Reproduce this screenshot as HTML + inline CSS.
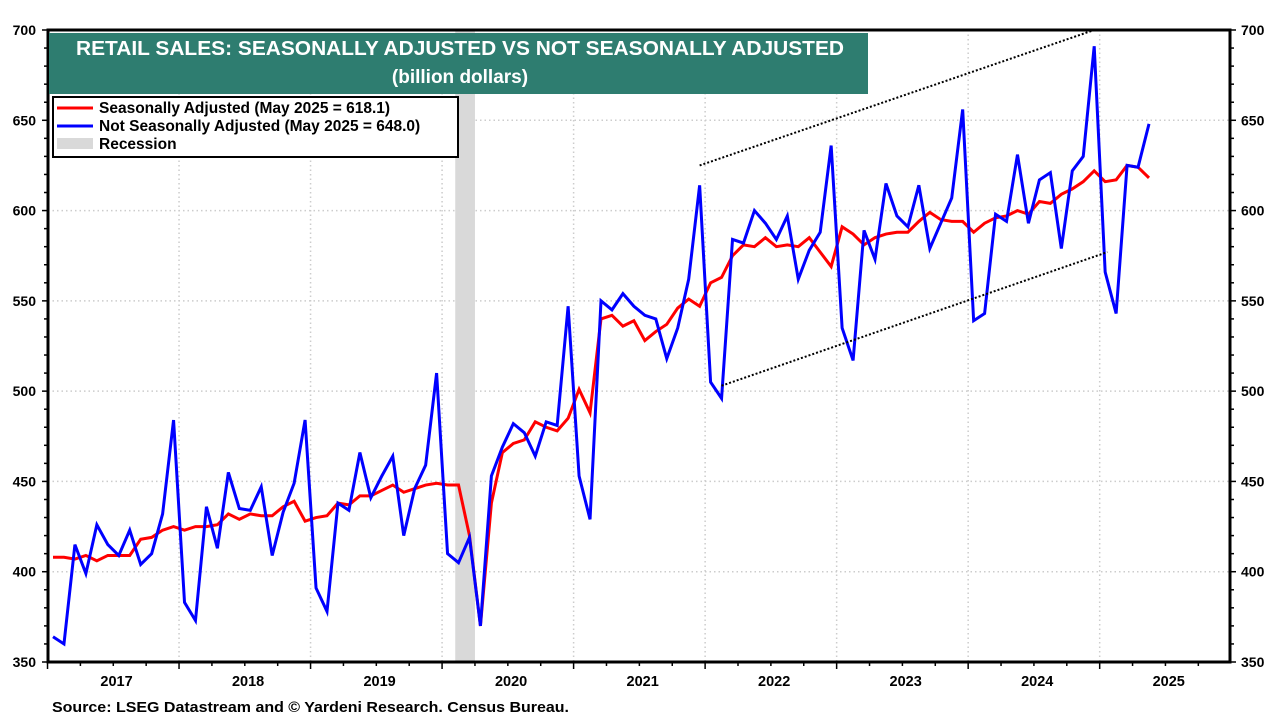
<!DOCTYPE html>
<html><head><meta charset="utf-8"><style>
body{margin:0;background:#fff;}
svg{display:block;font-family:"Liberation Sans",Arial,sans-serif;}
</style></head><body>
<svg id="chart" width="1280" height="720" viewBox="0 0 1280 720">
<g id="grid"></g>
<g id="rec"></g>
<g id="series"></g>
<g id="axes"></g>
<g>
<rect x="49" y="33" width="819" height="61" fill="#2e7d70"/>
<text x="460" y="55" text-anchor="middle" fill="#fff" font-size="20" font-weight="bold" textLength="768" lengthAdjust="spacingAndGlyphs">RETAIL SALES: SEASONALLY ADJUSTED VS NOT SEASONALLY ADJUSTED</text>
<text x="460" y="83" text-anchor="middle" fill="#fff" font-size="19" font-weight="bold">(billion dollars)</text>
</g>
<g>
<rect x="53" y="97" width="405" height="60" fill="#fff" stroke="#000" stroke-width="2"/>
<g><line x1="57" y1="108" x2="93" y2="108" stroke="#f00" stroke-width="3"/><text x="99" y="113" font-size="15.5" font-weight="bold">Seasonally Adjusted (May 2025 = 618.1)</text></g>
<g><line x1="57" y1="126" x2="93" y2="126" stroke="#00f" stroke-width="3"/><text x="99" y="131" font-size="15.5" font-weight="bold">Not Seasonally Adjusted (May 2025 = 648.0)</text></g>
<g><rect x="57" y="138" width="36" height="11" fill="#d9d9d9"/><text x="99" y="149" font-size="15.5" font-weight="bold">Recession</text></g>
</g>
<text x="52" y="712" font-size="15" font-weight="bold" textLength="517" lengthAdjust="spacingAndGlyphs">Source: LSEG Datastream and © Yardeni Research. Census Bureau.</text>
</svg>
<script>
const years = ["2017","2018","2019","2020","2021","2022","2023","2024","2025"];
const yTicks = [350,400,450,500,550,600,650,700];
const nsa = [364,360,415,399,426,415,409,423,404,410,432,484,
383,373,436,413,455,435,434,447,409,433,449,484,
391,378,438,434,466,441,453,464,420,446,459,510,
410,405,419,370,453,469,482,477,464,483,481,547,
453,429,550,545,554,547,542,540,518,535,562,614,
505,496,584,582,600,593,584,597,562,578,588,636,
535,517,589,573,615,597,591,614,579,593,607,656,
539,543,598,594,631,593,617,621,579,622,630,691,
566,543,625,624,648];
const sa = [408,408,407,409,406,409,409,409,418,419,423,425,
423,425,425,426,432,429,432,431,431,436,439,428,
430,431,438,437,442,442,445,448,444,446,448,449,
448,448,420,370,438,466,471,473,483,480,478,485,
501,488,540,542,536,539,528,533,537,546,551,547,
560,563,575,581,580,585,580,581,580,585,577,569,
591,587,581,585,587,588,588,594,599,595,594,594,
588,593,596,597,600,598,605,604,609,612,616,622,
616,617,625,624,618.1];
const recession = [37,39];
const trendUpper = [[59,625],[95,700]];
const trendLower = [[61,503],[96.2,577]];

const NS="http://www.w3.org/2000/svg";
const L=48,R=1230,T=30,B=662;
const x0=53, dm=10.96;
const xs=i=>x0+i*dm;
const ys=v=>B-(v-350)*(B-T)/350;
function mk(tag,attrs,parent){const e=document.createElementNS(NS,tag);for(const k in attrs)e.setAttribute(k,attrs[k]);parent.appendChild(e);return e;}
const grid=document.getElementById('grid'),axes=document.getElementById('axes'),series=document.getElementById('series'),rec=document.getElementById('rec');

yTicks.forEach(v=>{
  if(v>350&&v<700){const g=mk('line',{x1:L,x2:R,y1:ys(v),y2:ys(v),stroke:'#ccc','stroke-width':1.5,'stroke-dasharray':'1.5 3'},grid);
  
  }
  const t1=mk('text',{x:36,y:ys(v)+5,'text-anchor':'end','font-size':14,'font-weight':'bold'},axes);t1.textContent=v;
  
  
  const t2=mk('text',{x:1241,y:ys(v)+5,'font-size':14,'font-weight':'bold'},axes);t2.textContent=v;
  
  
});
for(let v=350;v<=700;v+=10){
  const big=v%50===0;
  mk('line',{x1:L-(big?6:4),x2:L,y1:ys(v),y2:ys(v),stroke:'#000','stroke-width':1.5},axes);
  mk('line',{x1:R,x2:R+(big?6:4),y1:ys(v),y2:ys(v),stroke:'#000','stroke-width':1.5},axes);
}
years.forEach((y,k)=>{
  const xb=xs(12*k-0.5);
  if(k>0){const g=mk('line',{x1:xb,x2:xb,y1:T,y2:B,stroke:'#ccc','stroke-width':1.5,'stroke-dasharray':'1.5 3'},grid);
  
  }
  for(let q=0;q<4;q++){const xq=xs(12*k-0.5+3*q);if(xq<R)mk('line',{x1:xq,x2:xq,y1:B,y2:B+(q===0?7:4),stroke:'#000','stroke-width':1.5},axes);}
  const t=mk('text',{x:xs(12*k+5.8),y:686,'text-anchor':'middle','font-size':14.5,'font-weight':'bold'},axes);t.textContent=y;
  
  
});
const rr=mk('rect',{x:xs(recession[0]-0.3),y:T,width:xs(recession[1]-0.5)-xs(recession[0]-0.3),height:B-T,fill:'#d9d9d9'},rec);



function line(d,color,name){
  const p=mk('polyline',{points:d.map((v,i)=>xs(i)+','+ys(v)).join(' '),fill:'none',stroke:color,'stroke-width':3,'stroke-linejoin':'miter'},series);
  
  
}
line(sa,'#f00','sa-line');
line(nsa,'#00f','nsa-line');
[trendUpper,trendLower].forEach((tr,j)=>{
  const l=mk('line',{x1:xs(tr[0][0]),y1:ys(tr[0][1]),x2:xs(tr[1][0]),y2:ys(tr[1][1]),stroke:'#000','stroke-width':2,'stroke-dasharray':'2 2'},series);
  
  
});
const fr=mk('rect',{x:L,y:T,width:R-L,height:B-T,fill:'none',stroke:'#000','stroke-width':3},axes);


</script>
</body></html>
